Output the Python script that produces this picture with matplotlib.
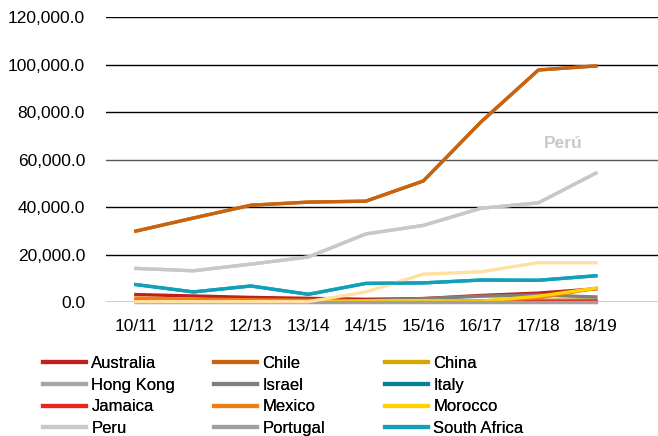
import numpy as np
import matplotlib
matplotlib.use("Agg")
import matplotlib.pyplot as plt
from matplotlib.lines import Line2D

plt.rcParams['font.family'] = ['Liberation Sans', 'DejaVu Sans']

seasons = ['10/11', '11/12', '12/13', '13/14', '14/15', '15/16', '16/17', '17/18', '18/19']

# values
australia = [3200, 2600, 2000, 1600, 1200, 1500, 2800, 3800, 5600]
chile = [29900, 35400, 40800, 42100, 42500, 51000, 75800, 97700, 99400]
china = [500, 400, 400, 300, 400, 500, 600, 800, 1000]
hong_kong = [900, 800, 700, 600, 500, 500, 600, 700, 800]
israel = [300, 300, 300, 300, 600, 1500, 2500, 3000, 2200]
italy = [300, 300, 200, 200, 200, 300, 300, 300, 400]
jamaica = [700, 600, 500, 400, 300, 300, 300, 300, 300]
mexico = [1700, 1300, 1000, 800, 600, 700, 500, 1800, 5800]
morocco = [0, 0, 0, 0, 500, 600, 400, 2500, 5900]
peru = [14200, 13200, 16000, 19000, 28700, 32300, 39500, 41800, 54300]
portugal = [200, 200, 200, 200, 200, 200, 200, 200, 200]
south_africa = [7400, 4300, 6800, 3300, 7900, 8100, 9300, 9200, 11100]
other_a = [200, 200, 200, 200, 4300, 11800, 12800, 16600, 16600]
other_b = [100, 100, 100, 100, 100, 100, 100, 100, 100]

series = [
    ('Australia', australia, '#c0201d'),
    ('Chile', chile, '#c8640f'),
    ('China', china, '#d4a800'),
    ('Hong Kong', hong_kong, '#a6a6a6'),
    ('Israel', israel, '#7f7f7f'),
    ('Italy', italy, '#0a7f94'),
    ('Jamaica', jamaica, '#e8261f'),
    ('Mexico', mexico, '#f07d12'),
    ('Morocco', morocco, '#ffd200'),
    ('Peru', peru, '#c8c8c8'),
    ('Portugal', portugal, '#a0a0a0'),
    ('South Africa', south_africa, '#12a0b8'),
]

LW = 2.4

fig = plt.figure(figsize=(6.58, 4.36), dpi=100)
ax = fig.add_axes([0.161, 0.307, 0.839, 0.654])

x = np.arange(len(seasons))
yticks = np.arange(0, 120001, 20000)
for t in yticks:
    col = '#595959' if t == 60000 else 'black'
    ax.axhline(t, color=col, lw=1.0, zorder=0)

ax.plot(x, other_b, color='#f0b4a0', lw=LW, clip_on=False, zorder=2)
for name, vals, col in series:
    ax.plot(x, vals, color=col, lw=LW, clip_on=False, zorder=3)
ax.plot(x, other_a, color='#ffe0a0', lw=LW, clip_on=False, zorder=4)
# main lines on top
ax.plot(x, south_africa, color='#12a0b8', lw=LW, zorder=5)
ax.plot(x, peru, color='#c8c8c8', lw=LW, zorder=5)
ax.plot(x, chile, color='#c8640f', lw=LW, zorder=6)

ax.text(7.43, 66900, 'Perú', color='#c8c8c8', fontsize=12.5, fontweight='bold', ha='center', va='center')

ax.set_xlim(-0.52, 9.08)
ax.set_ylim(0, 120000)
ax.set_xticks(x)
ax.set_xticklabels(seasons, fontsize=12.5)
ax.set_yticks(yticks)
ax.set_yticklabels(['{:,.1f}'.format(t) for t in yticks], fontsize=12.5)
ax.tick_params(length=0, pad=15, axis='y')
ax.tick_params(length=0, pad=12, axis='x')
for s in ax.spines.values():
    s.set_visible(False)

# legend: three columns, one legend each
cols_x = [43 / 658, 214 / 658, 385 / 658]
for c in range(3):
    handles = []
    for r in range(4):
        name, vals, col = series[r * 3 + c]
        handles.append(Line2D([0], [0], color=col, lw=3, label=name))
    leg = fig.legend(handles=handles, loc='upper left',
                     bbox_to_anchor=(cols_x[c], 1 - 356 / 436),
                     frameon=False, handlelength=2.6, handletextpad=0.3,
                     labelspacing=0.4, borderpad=0, borderaxespad=0,
                     prop={'size': 12})
    fig.add_artist(leg)

fig.savefig('out.png', dpi=100)
